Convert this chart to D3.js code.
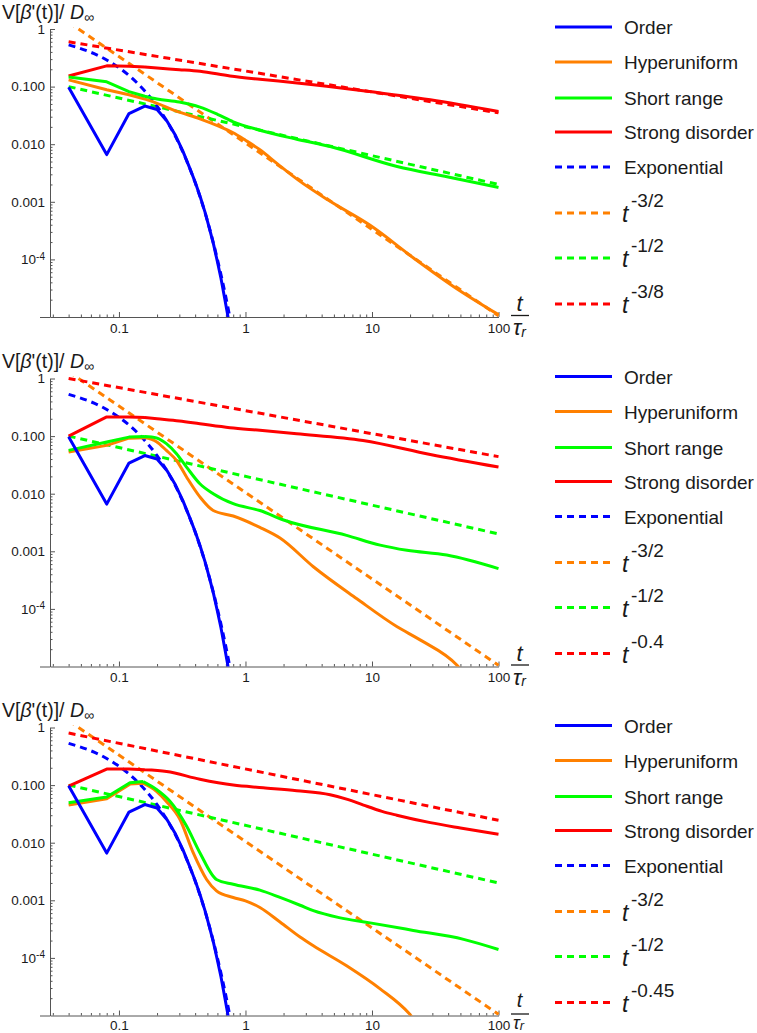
<!DOCTYPE html>
<html><head><meta charset="utf-8">
<script src="https://cdn.jsdelivr.net/npm/d3@7"></script>
<style>body{margin:0;background:#fff}</style>
</head><body><svg id="c" width="757" height="1033"></svg>
<script>
// ---------- data (t/τr , V/D∞) ----------
const seriesNames = ["Order","Hyperuniform","Short range","Strong disorder","Exponential"];
const powerLabels = [["-3/2","-1/2","-3/8"],["-3/2","-1/2","-0.4"],["-3/2","-1/2","-0.45"]];
const xTickValues = [0.1,1,10,100];
const yTickValues = [1e-4,1e-3,1e-2,1e-1,1];
const yTickLabels = ["10^-4","0.001","0.010","0.100","1"];

const orderData = [[0.04,0.097],[0.08,0.0066],[0.12,0.034],[0.16,0.046],[0.2,0.040],[0.24,0.025],[0.28,0.0141],[0.32,0.0076],[0.36,0.0040],[0.40,0.0022],[0.44,0.0012],[0.48,0.00065],[0.52,0.00034],[0.56,0.00018],[0.60,0.000091],[0.64,0.000047],[0.68,0.000023],[0.72,0.0000115],[0.76,0.0000056]];
const expData = [[0.04,0.53],[0.08,0.29],[0.12,0.156],[0.16,0.084],[0.2,0.0458],[0.3,0.00994],[0.4,0.00216],[0.5,0.00047],[0.6,0.0001],[0.7,0.000022],[0.78,0.0000065]];

const hyper1 = [[0.04,0.131],[0.08,0.088],[0.12,0.072],[0.175,0.057],[0.3,0.036],[0.436,0.0276],[0.6,0.021],[0.8,0.0158],[1.0,0.0117],[1.3,0.0080],[1.8,0.0045],[2.6,0.0024],[4.5,0.00107],[9.67,0.00039],[21.3,0.000106],[44,0.000034],[100,0.000011]];
const green1 = [[0.04,0.147],[0.08,0.121],[0.12,0.082],[0.16,0.068],[0.2,0.061],[0.3,0.054],[0.436,0.044],[0.6,0.033],[0.8,0.0245],[1.3,0.0175],[2.5,0.0123],[4.67,0.0091],[15.8,0.0041],[40,0.0027],[100,0.00177]];
const red1 = [[0.04,0.153],[0.08,0.229],[0.12,0.226],[0.16,0.219],[0.2,0.21],[0.3,0.197],[0.437,0.184],[0.754,0.153],[1.3,0.134],[2.56,0.116],[8.5,0.085],[28.9,0.059],[100,0.037]];

const hyper2 = [[0.04,0.053],[0.08,0.069],[0.12,0.092],[0.16,0.094],[0.198,0.08],[0.237,0.0565],[0.285,0.0377],[0.342,0.0195],[0.436,0.0088],[0.556,0.0051],[0.8,0.0041],[1.3,0.0026],[1.875,0.0017],[3.44,0.00054],[7.6,0.00015],[15.8,0.000049],[24,0.000029],[47,0.0000105],[55,0.000007]];
const green2 = [[0.04,0.0565],[0.08,0.079],[0.12,0.096],[0.16,0.098],[0.198,0.093],[0.237,0.074],[0.285,0.0495],[0.342,0.029],[0.436,0.0149],[0.556,0.010],[0.8,0.0067],[1.3,0.0051],[2.0,0.0035],[6.3,0.00189],[11.6,0.00128],[18.9,0.00104],[39,0.00086],[100,0.0005]];
const red2 = [[0.04,0.1],[0.08,0.215],[0.12,0.215],[0.16,0.21],[0.2,0.2],[0.3,0.183],[0.436,0.164],[0.754,0.14],[1.3,0.126],[2.54,0.11],[8.5,0.084],[28.9,0.048],[100,0.029]];

const hyper3 = [[0.04,0.045],[0.08,0.058],[0.122,0.104],[0.155,0.108],[0.198,0.078],[0.237,0.052],[0.303,0.0255],[0.386,0.0067],[0.493,0.0023],[0.59,0.00146],[0.8,0.00112],[1.0,0.00098],[1.3,0.00075],[1.875,0.00042],[2.7,0.00023],[3.44,0.000162],[6.3,0.000073],[11.6,0.000029],[19.5,0.000011],[22,0.000008]];
const green3 = [[0.04,0.0495],[0.08,0.062],[0.122,0.11],[0.155,0.115],[0.198,0.084],[0.252,0.053],[0.342,0.0195],[0.436,0.0067],[0.59,0.0023],[0.8,0.0019],[1.3,0.0015],[1.875,0.00112],[2.7,0.00082],[3.44,0.00066],[5.5,0.0005],[9.4,0.00041],[21.2,0.0003],[53,0.00021],[100,0.00014]];
const red3 = [[0.04,0.096],[0.08,0.19],[0.12,0.19],[0.16,0.184],[0.238,0.172],[0.436,0.126],[0.8,0.1],[1.38,0.09],[2.54,0.08],[4.67,0.068],[6.5,0.056],[8.57,0.045],[12,0.035],[15.7,0.03],[28.9,0.0223],[50,0.018],[100,0.014]];

const pow32 = [[0.04,1.31],[100,0.0000105]];
const pow12 = [[0.04,0.1],[100,0.002]];
const powRed1 = [[0.04,0.6],[100,0.035]];
const powRed2 = [[0.04,1.0],[100,0.044]];
const powRed3 = [[0.04,0.8],[100,0.0245]];

const hyperSets = [hyper1,hyper2,hyper3];
const greenSets = [green1,green2,green3];
const redSets = [red1,red2,red3];
const powRedSets = [powRed1,powRed2,powRed3];

// ---------- drawing ----------
const COL = {blue:"#0000ff", orange:"#ff8000", green:"#00ff00", red:"#ff0000"};
const FONT = "'Liberation Sans', Arial, Helvetica, sans-serif";
const AX = "#555";
const svg = d3.select("#c");
const x = d3.scaleLog().domain([0.0285,100]).range([50,498.5]);
const y = d3.scaleLog().domain([1e-5,1]).range([317,29]);
const offsets = [0,349.5,698.5];

const lineLin = d3.line().x(d=>x(d[0])).y(d=>y(d[1])).curve(d3.curveLinear);
const lineMono = d3.line().x(d=>x(d[0])).y(d=>y(d[1])).curve(d3.curveMonotoneX);
function mixedPath(data){
  let idx = 0;
  data.forEach((d,i)=>{ if(d[0] <= 0.165) idx = i; });
  const a = data.slice(0, idx+1), b = data.slice(idx);
  return lineLin(a) + (b.length>1 ? lineMono(b) : "");
}

const minorX = [];
[0.01,0.1,1,10].forEach(b=>{ for(let k=2;k<=9;k++){ const v=b*k; if(v>=0.029 && v<100) minorX.push(v);} });
const minorY = [];
[1e-5,1e-4,1e-3,1e-2,1e-1].forEach(b=>{ for(let k=2;k<=9;k++) minorY.push(b*k); });

offsets.forEach((off,p)=>{
  const g = svg.append("g").attr("transform",`translate(0,${off})`);
  const clipId = "clip"+p;
  g.append("clipPath").attr("id",clipId).append("rect").attr("x",50).attr("y",27).attr("width",452).attr("height",290);

  // axes
  const xa = g.append("g").attr("transform","translate(0,317)")
    .call(d3.axisBottom(x).tickValues(xTickValues).tickSizeInner(-5).tickSizeOuter(0).tickPadding(p===2?4.5:6)
      .tickFormat(d=>d>=1?d3.format("d")(d):String(d)));
  g.append("g").attr("transform","translate(0,317)")
    .call(d3.axisBottom(x).tickValues(minorX).tickSizeInner(-2.5).tickSizeOuter(0).tickFormat(""))
    .call(s=>s.select(".domain").remove());
  g.append("line").attr("x1",40).attr("x2",50).attr("y1",317.5).attr("y2",317.5).attr("stroke",AX);
  const ya = g.append("g").attr("transform","translate(50,0)")
    .call(d3.axisLeft(y).tickValues(yTickValues).tickSizeInner(-5).tickSizeOuter(0).tickPadding(5)
      .tickFormat((d,i)=>yTickLabels[i]));
  g.append("g").attr("transform","translate(50,0)")
    .call(d3.axisLeft(y).tickValues(minorY).tickSizeInner(-2.5).tickSizeOuter(0).tickFormat(""))
    .call(s=>s.select(".domain").remove());
  g.selectAll(".domain").attr("stroke",AX).attr("stroke-width",1);
  g.selectAll(".tick line").attr("stroke",AX);
  g.selectAll(".tick text").attr("fill","#1a1a1a").style("font-family",FONT).style("font-size","13.5px");
  xa.selectAll(".tick text").attr("dy","0.71em");
  // superscript on 10^-4
  ya.selectAll(".tick text").each(function(d,i){
    const lbl = yTickLabels[i];
    if(lbl.indexOf("^")>=0){
      const [base,exp] = lbl.split("^");
      const t = d3.select(this).text("");
      t.append("tspan").text(base);
      t.append("tspan").attr("dy","-0.45em").style("font-size","10px").text(exp);
    }
  });
  // y-axis label
  const yl = g.append("text").attr("x",2).attr("y",18.5).style("font-family",FONT).style("font-size","19.5px").attr("fill","#1a1a1a");
  yl.append("tspan").text("V[");
  yl.append("tspan").style("font-style","italic").text("β");
  yl.append("tspan").text("'(t)]/ ");
  yl.append("tspan").style("font-style","italic").text("D");
  yl.append("tspan").attr("dy","3").style("font-size","14px").text("∞");
  // x-axis label
  const last = p===2;
  g.append("text").attr("x",519.5).attr("y",last?308.5:311).attr("text-anchor","middle").style("font-family",FONT).style("font-style","italic").style("font-size",last?"20px":"22px").attr("fill","#1a1a1a").text("t");
  g.append("line").attr("x1",511).attr("x2",529).attr("y1",315.5).attr("y2",315.5).attr("stroke","#1a1a1a").attr("stroke-width",1.3);
  const tl = g.append("text").attr("x",513).attr("y",last?330:335).style("font-family",FONT).style("font-style","italic").style("font-size",last?"18px":"22px").attr("fill","#1a1a1a");
  tl.append("tspan").text("τ");
  tl.append("tspan").attr("dy","1.5").style("font-size",last?"13px":"14px").text("r");

  // curves
  const plot = g.append("g").attr("clip-path",`url(#${clipId})`).attr("fill","none").attr("stroke-width",3).attr("stroke-linejoin","round");
  const dash = "7,5";
  plot.append("path").attr("d",lineLin(pow32)).attr("stroke",COL.orange).attr("stroke-dasharray",dash);
  plot.append("path").attr("d",lineLin(pow12)).attr("stroke",COL.green).attr("stroke-dasharray",dash);
  plot.append("path").attr("d",lineLin(powRedSets[p])).attr("stroke",COL.red).attr("stroke-dasharray",dash);
  plot.append("path").attr("d",lineMono(expData)).attr("stroke",COL.blue).attr("stroke-dasharray",dash);
  plot.append("path").attr("d",mixedPath(redSets[p])).attr("stroke",COL.red);
  plot.append("path").attr("d",mixedPath(hyperSets[p])).attr("stroke",COL.orange);
  plot.append("path").attr("d",mixedPath(greenSets[p])).attr("stroke",COL.green);
  plot.append("path").attr("d",lineLin(orderData)).attr("stroke",COL.blue);

  // legend
  const rows = [27,62,98,132,167,213,258,304];
  const legCols = [COL.blue,COL.orange,COL.green,COL.red,COL.blue,COL.orange,COL.green,COL.red];
  const lg = g.append("g");
  rows.forEach((ry,i)=>{
    lg.append("line").attr("x1",555).attr("x2",612).attr("y1",ry).attr("y2",ry)
      .attr("stroke",legCols[i]).attr("stroke-width",3)
      .attr("stroke-dasharray", i>=4 ? "7,5" : null);
    if(i<5){
      lg.append("text").attr("x",624).attr("y",ry+7).style("font-family",FONT).style("font-size","19px").attr("fill","#1a1a1a").text(seriesNames[i]);
    } else {
      lg.append("text").attr("x",622).attr("y",ry+9).style("font-family",FONT).style("font-style","italic").style("font-size","23px").attr("fill","#1a1a1a").text("t");
      lg.append("text").attr("x",631).attr("y",ry-6).style("font-family",FONT).style("font-size","19px").attr("fill","#1a1a1a").text(powerLabels[p][i-5]);
    }
  });
});
</script>
</body></html>
